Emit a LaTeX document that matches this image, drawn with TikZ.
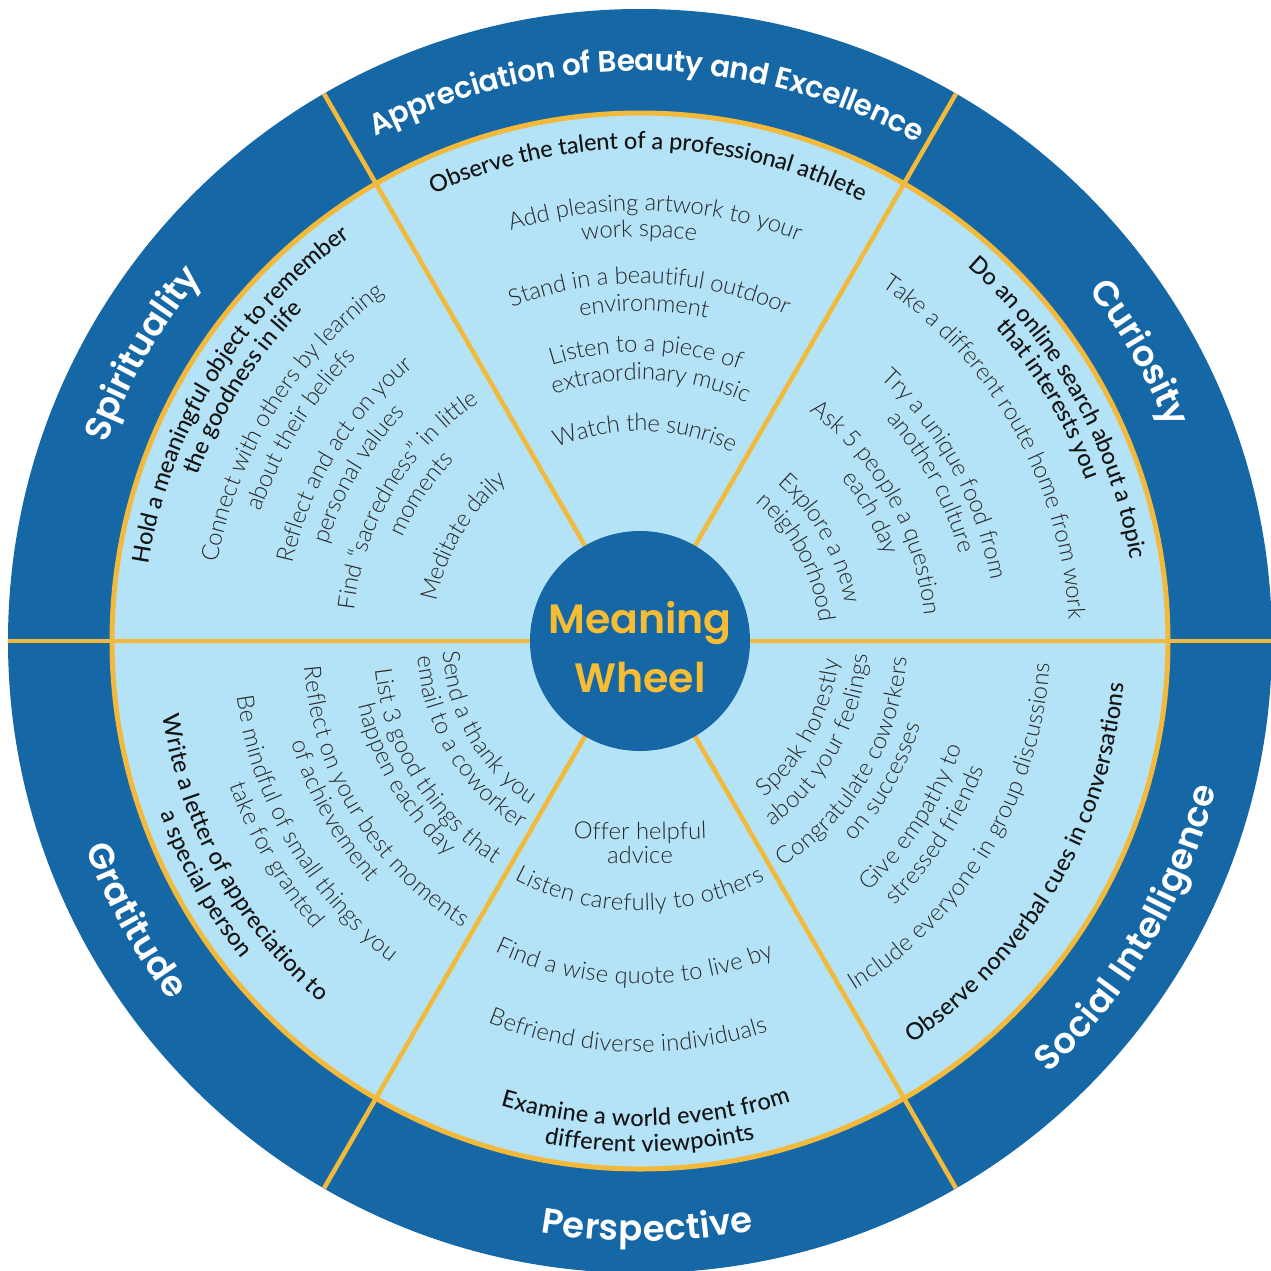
\documentclass[tikz,border=0pt]{standalone}
\usepackage{fontspec}
\usetikzlibrary{decorations.text}
\setmainfont{Lato}
\newfontfamily\itemfont{Lato Light}
\newfontfamily\darkfont{Lato Medium}
\newfontfamily\bandfont{Poppins SemiBold}
\definecolor{wheelblue}{RGB}{21,103,166}
\definecolor{wheellight}{RGB}{180,226,247}
\definecolor{wheelyellow}{RGB}{243,185,58}
\definecolor{titleyellow}{RGB}{246,188,52}
\definecolor{itemgray}{RGB}{40,40,40}
\definecolor{darkitem}{RGB}{20,20,20}

\newcommand\itemfmt{\itemfont\fontsize{23.8}{26}\selectfont\color{itemgray}}
\newcommand\darkfmt{\darkfont\fontsize{23.5}{26}\selectfont\color{darkitem}}
\newcommand\bandfmt{\bandfont\fontsize{35.5}{40}\selectfont\color{white}}
\newcommand\bandsmallfmt{\bandfont\fontsize{29.5}{32}\selectfont\color{white}}

% clockwise arc text (letters' tops outward)
% #1 centre angle, #2 radius of text centre line, #3 curvature radius, #4 raise, #5 format, #6 text
\newcommand\cwtext[6]{%
  \pgfmathsetmacro\ctH{min(85,57.3*(700/#3))}%
  \pgfmathsetmacro\ctS{#1+\ctH}%
  \pgfmathsetmacro\ctE{#1-\ctH}%
  \pgfmathsetmacro\ctX{(#2-#3)*cos(#1)+#3*cos(\ctS)}%
  \pgfmathsetmacro\ctY{(#2-#3)*sin(#1)+#3*sin(\ctS)}%
  \path[decorate,decoration={text along path,text align=center,raise=#4,text={|#5|#6}}]
    (\ctX,\ctY) arc[start angle=\ctS,end angle=\ctE,radius=#3];%
}
% counter-clockwise arc text (letters' tops inward)
\newcommand\ccwtext[6]{%
  \pgfmathsetmacro\ctH{min(85,57.3*(700/#3))}%
  \pgfmathsetmacro\ctS{#1-\ctH}%
  \pgfmathsetmacro\ctE{#1+\ctH}%
  \pgfmathsetmacro\ctX{(#2-#3)*cos(#1)+#3*cos(\ctS)}%
  \pgfmathsetmacro\ctY{(#2-#3)*sin(#1)+#3*sin(\ctS)}%
  \path[decorate,decoration={text along path,text align=center,raise=#4,text={|#5|#6}}]
    (\ctX,\ctY) arc[start angle=\ctS,end angle=\ctE,radius=#3];%
}
\newcommand\topitem[3]{\cwtext{#1}{#2}{#2}{-7pt}{\itemfmt}{#3}}
\newcommand\topdark[3]{\cwtext{#1}{#2}{#2}{-7pt}{\darkfmt}{#3}}
\newcommand\botitem[3]{\ccwtext{#1}{#2}{#2}{-7pt}{\itemfmt}{#3}}
\newcommand\botdark[3]{\ccwtext{#1}{#2}{#2}{-7pt}{\darkfmt}{#3}}

\begin{document}
\begin{tikzpicture}[x=1pt,y=1pt]
\useasboundingbox (-640,-629) rectangle (631,641);
% wheel body
\fill[wheelblue] (0,0) circle[radius=632];
\fill[wheellight] (0,0) circle[radius=528];
\foreach \a in {0,60,...,300}
  \draw[wheelyellow,line width=4.5pt] (\a:100) -- (\a:632);
\draw[wheelyellow,line width=5pt] (0,0) circle[radius=528];
\node[circle,fill=wheelblue,minimum size=220pt,inner sep=0pt] (hub) at (0,0) {};
\node[anchor=base,text=titleyellow,font=\bandfont\fontsize{41}{44}\selectfont,inner sep=0pt] (title1) at (0,8) {Meaning};
\node[anchor=base,text=titleyellow,font=\bandfont\fontsize{41}{44}\selectfont,inner sep=0pt] (title2) at (0,-51) {Wheel};

% band labels
\cwtext{89.3}{581}{581}{-11pt}{\bandsmallfmt}{Appreciation of Beauty and Excellence}
\cwtext{30}{581}{581}{-12pt}{\bandfmt}{Curiosity}
\cwtext{150}{581}{581}{-12pt}{\bandfmt}{Spirituality}
\ccwtext{-30.5}{583}{583}{-12pt}{\bandfmt}{Social Intelligence}
\ccwtext{270.7}{588}{588}{-12pt}{\bandfmt}{Perspective}
\ccwtext{209}{580}{580}{-12pt}{\bandfmt}{Gratitude}

% Appreciation of Beauty and Excellence
\topdark{89}{499}{Observe the talent of a professional athlete}
\topitem{87.9}{437}{Add pleasing artwork to your}
\topitem{90.1}{411}{work space}
\topitem{88.4}{364.5}{Stand in a beautiful outdoor}
\topitem{89.3}{337}{environment}
\topitem{88.8}{296}{Listen to a piece of}
\topitem{87.6}{268}{extraordinary music}
\topitem{88.6}{217}{Watch the sunrise}

% Curiosity
\topdark{29.1}{504}{Do an online search about a topic}
\topdark{30.6}{481}{that interests you}
\topitem{29.3}{436}{Take a different route home from work}
\topitem{28.7}{363}{Try a unique food from}
\topitem{28.6}{338}{another culture}
\topitem{29.3}{292}{Ask 5 people a question}
\topitem{29}{266}{each day}
\topitem{29.6}{216}{Explore a new}
\topitem{28}{187}{neighborhood}

% Spirituality
\topdark{148.4}{504}{Hold a meaningful object to remember}
\topdark{147.5}{479}{the goodness in life}
\topitem{147.9}{437}{Connect with others by learning}
\topitem{148.1}{407.6}{about their beliefs}
\topitem{148.5}{362.6}{Reflect and act on your}
\topitem{149.3}{334}{personal values}
\topitem{148.9}{294.5}{Find “sacredness” in little}
\topitem{146.1}{266}{moments}
\topitem{149.4}{214}{Meditate daily}

% Social Intelligence
\botdark{-30.5}{478.5}{Observe nonverbal cues in conversations}
\botitem{-30.8}{403}{Include everyone in group discussions}
\botitem{-33}{332}{Give empathy to}
\botitem{-33.3}{360}{stressed friends}
\botitem{-30.6}{260}{Congratulate coworkers}
\botitem{-29.9}{286}{on successes}
\botitem{-28.5}{192.4}{Speak honestly}
\botitem{-28.9}{220.6}{about your feelings}

% Gratitude
\botdark{208.7}{476}{Write a letter of appreciation to}
\botdark{209.2}{503}{a special person}
\botitem{210}{400}{Be mindful of small things you}
\botitem{210.5}{428}{take for granted}
\botitem{211.3}{330}{Reflect on your best moments}
\botitem{209}{356}{of achievement}
\botitem{211.4}{259.5}{List 3 good things that}
\botitem{210.5}{282}{happen each day}
\botitem{209.6}{190.4}{Send a thank you}
\botitem{210.7}{216}{email to a coworker}

% Perspective
\botdark{270.7}{478}{Examine a world event from}
\botdark{271.1}{504}{different viewpoints}
\botitem{268.2}{404}{Befriend diverse individuals}
\botitem{269}{336}{Find a wise quote to live by}
\botitem{269.9}{263}{Listen carefully to others}
\ccwtext{270}{192}{2000}{-7pt}{\itemfmt}{Offer helpful}
\ccwtext{270}{216}{2000}{-7pt}{\itemfmt}{advice}
\end{tikzpicture}
\end{document}
